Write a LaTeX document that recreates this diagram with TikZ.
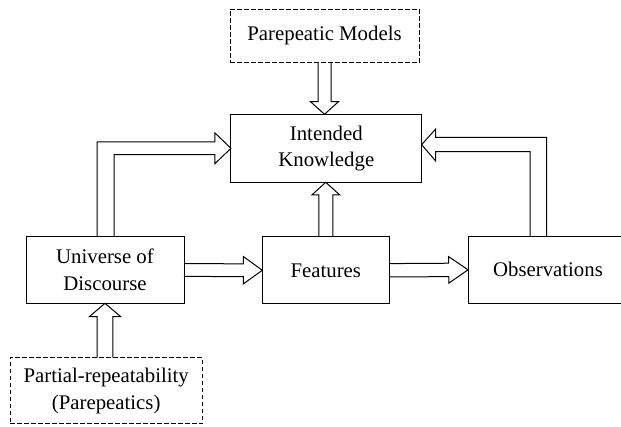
\documentclass[tikz,border=0pt]{standalone}
\usepackage{fontspec}
\setmainfont{Liberation Serif}
\usetikzlibrary{calc}

\tikzset{every picture/.style={line width=1pt}}
\tikzset{
  block/.style={draw, rectangle, align=center, inner sep=0pt, outer sep=0pt,
    font=\fontsize{20.8}{26.5}\selectfont},
  dashblock/.style={block, dash pattern=on 4.5pt off 2.5pt},
  fatarrow/.style={draw, line join=miter},
}

% hollow block arrow: from, to, half shaft, half head, head length
\newcommand{\hollowarrow}[5]{%
  \coordinate (hb) at ($(#2)!#5!(#1)$);
  \draw[fatarrow] ($(#1)!#3!90:(#2)$) -- ($(hb)!#3!90:(#2)$) -- ($(hb)!#4!90:(#2)$) -- (#2)
    -- ($(hb)!#4!-90:(#2)$) -- ($(hb)!#3!-90:(#2)$) -- ($(#1)!#3!-90:(#2)$);
}

\begin{document}
\begin{tikzpicture}[x=1pt,y=-1pt]
    \clip (0,0) rectangle (621,427);

    % Boxes
    \node[dashblock, minimum width=189pt, minimum height=53.7pt] (pm) at (324.5,35.9) {Parepeatic Models};
    \node[block, minimum width=190.7pt, minimum height=68pt] (ik) at (326.3,148.3) {Intended\\Knowledge};
    \node[block, minimum width=158pt, minimum height=66.6pt] (ud) at (105,270) {Universe of\\Discourse};
    \node[block, minimum width=127pt, minimum height=67.3pt] (ft) at (325.8,270.3) {Features};
    \node[block, minimum width=160pt, minimum height=67pt] (ob) at (548,269.8) {Observations};
    \node[dashblock, minimum width=192.3pt, minimum height=66.3pt] (pr) at (106.2,390.8) {Partial-repeatability\\(Parepeatics)};

    % Straight arrows
    \coordinate (ikt) at (pm.south |- ik.north);
    \hollowarrow{pm.south}{ikt}{6.5pt}{14pt}{12.6pt}
    \coordinate (ikb) at (ft.north |- ik.south);
    \hollowarrow{ft.north}{ikb}{7pt}{14pt}{12.7pt}
    \coordinate (prt) at (ud.south |- pr.north);
    \hollowarrow{prt}{ud.south}{7.8pt}{15.7pt}{13.4pt}
    \hollowarrow{ud.east}{ft.west}{6.4pt}{13.7pt}{19pt}
    \hollowarrow{ft.east}{ob.west}{6.7pt}{13.3pt}{19.3pt}

    % Elbow arrows
    \draw[fatarrow] ($(ud.north)+(-8,0)$) |- ($(ik.west)+(-16,-6.3)$) -- ++(0,-9) -- (ik.west)
      -- ($(ik.west)+(-16,15.3)$) -- ++(0,-9) -| ($(ud.north)+(9,0)$);
    \coordinate (ikr) at ($(ik.east)+(0,-3.6)$);
    \draw[fatarrow] ($(ob.north)+(-1.3,0)$) |- ($(ikr)+(14,-7.4)$) -- ++(0,-8.3) -- (ikr)
      -- ($(ikr)+(14,16.3)$) -- ++(0,-9.3) -| ($(ob.north)+(-18,0)$);
\end{tikzpicture}
\end{document}
